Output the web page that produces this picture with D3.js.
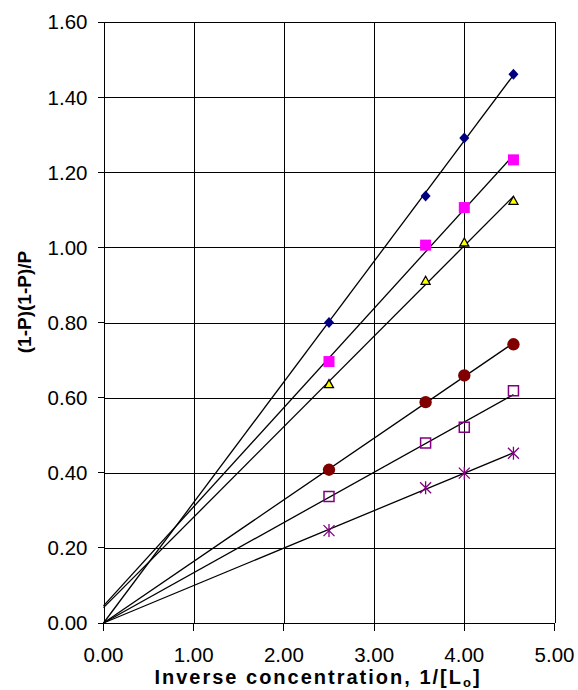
<!DOCTYPE html>
<html>
<head>
<meta charset="utf-8">
<script src="https://cdn.jsdelivr.net/npm/d3@7"></script>
<style>
  body { margin: 0; background: #fff; }
  svg { display: block; font-family: "Liberation Sans", Arial, sans-serif; }
</style>
</head>
<body>
<svg id="chart" width="578" height="690"></svg>
<script>
// inverse concentration values shared by every series
var xValues = [2.5, 3.571, 4.0, 4.545];

var seriesNames = ['diamond', 'square', 'triangle', 'circle', 'openSquare', 'star'];
var diamondValues = [0.800, 1.137, 1.291, 1.461];
var squareValues = [0.696, 1.006, 1.106, 1.233];
var triangleValues = [0.636, 0.911, 1.013, 1.124];
var circleValues = [0.408, 0.588, 0.659, 0.742];
var openSquareValues = [0.337, 0.479, 0.521, 0.618];
var starValues = [0.246, 0.360, 0.399, 0.452];
// which trendlines are forced through the origin
var throughOrigin = [true, false, false, true, true, true];

var xTicks = [0, 1, 2, 3, 4, 5];
var yTicks = [0, 0.2, 0.4, 0.6, 0.8, 1.0, 1.2, 1.4, 1.6];

var plotLeft = 103.5, plotRight = 554.5, plotTop = 22, plotBottom = 623;

var svg = d3.select('#chart');
var x = d3.scaleLinear().domain([0, 5]).range([plotLeft, plotRight]);
var y = d3.scaleLinear().domain([0, 1.6]).range([plotBottom, plotTop]);

// grid
var grid = svg.append('g').attr('stroke', '#000').attr('stroke-width', 1).attr('shape-rendering', 'crispEdges');
grid.selectAll('.hg').data(yTicks).enter().append('line')
    .attr('x1', plotLeft).attr('x2', plotRight)
    .attr('y1', function(d) { return Math.round(y(d)) + 0.5; })
    .attr('y2', function(d) { return Math.round(y(d)) + 0.5; });
grid.selectAll('.vg').data(xTicks).enter().append('line')
    .attr('y1', plotTop).attr('y2', plotBottom)
    .attr('x1', function(d) { return Math.round(x(d)) + 0.5; })
    .attr('x2', function(d) { return Math.round(x(d)) + 0.5; });

// axes
var fmt = d3.format('.2f');
var yAxis = svg.append('g')
    .call(d3.axisLeft(y).tickValues(yTicks).tickFormat(fmt).tickSize(7).tickPadding(10).offset(0));
yAxis.attr('transform', 'translate(' + (Math.round(plotLeft) + 0.5) + ',0)');
var xAxis = svg.append('g')
    .attr('transform', 'translate(0,' + (Math.round(plotBottom) + 0.5) + ')')
    .call(d3.axisBottom(x).tickValues(xTicks).tickFormat(fmt).tickSize(7).tickPadding(17).offset(0));
[yAxis, xAxis].forEach(function(a) {
    a.select('.domain').remove();
    a.selectAll('line').attr('stroke', '#000').attr('shape-rendering', 'crispEdges');
    a.selectAll('text').attr('font-size', 20.5).attr('fill', '#000')
        .attr('font-family', '"Liberation Sans", Arial, sans-serif');
});
yAxis.selectAll('text').attr('dy', '0.36em');

// axis titles
var xt = svg.append('text')
    .attr('x', 318).attr('y', 684)
    .attr('text-anchor', 'middle').attr('font-size', 20).attr('font-weight', 'bold')
    .attr('letter-spacing', 2)
    .text('Inverse concentration, 1/[L');
xt.append('tspan').attr('font-size', 13).attr('dy', 3).text('o');
xt.append('tspan').attr('dy', -3).text(']');

svg.append('text')
    .attr('transform', 'translate(31,302) rotate(-90)')
    .attr('text-anchor', 'middle').attr('font-size', 19).attr('font-weight', 'bold')
    .text('(1-P)(1-P)/P');

// trendlines
var allValues = [diamondValues, squareValues, triangleValues, circleValues, openSquareValues, starValues];

function fit(ys, origin) {
    var n = xValues.length, sx = 0, sy = 0, sxy = 0, sxx = 0;
    for (var i = 0; i < n; i++) {
        sx += xValues[i]; sy += ys[i];
        sxy += xValues[i] * ys[i]; sxx += xValues[i] * xValues[i];
    }
    if (origin) return { m: sxy / sxx, b: 0 };
    var m = (n * sxy - sx * sy) / (n * sxx - sx * sx);
    return { m: m, b: (sy - m * sx) / n };
}

var xEnd = d3.max(xValues);
allValues.forEach(function(ys, i) {
    var f = fit(ys, throughOrigin[i]);
    svg.append('line')
        .attr('x1', x(0)).attr('y1', y(f.b))
        .attr('x2', x(xEnd)).attr('y2', y(f.b + f.m * xEnd))
        .attr('stroke', '#000').attr('stroke-width', 1.3);
});

// markers
var shapes = {
    diamond: { d: 'M0,-5.5L5,0L0,5.5L-5,0Z', fill: '#000080', stroke: 'none' },
    square: { d: 'M-5.5,-5.5H5.5V5.5H-5.5Z', fill: '#ff00ff', stroke: 'none' },
    triangle: { d: 'M0,-4.5L4.5,3.5H-4.5Z', fill: '#ffff00', stroke: '#000', width: 1.3 },
    circle: { d: d3.symbol(d3.symbolCircle, 120)(), fill: '#800000', stroke: 'none' },
    openSquare: { d: 'M-5,-5H5V5H-5Z', fill: 'none', stroke: '#800080', width: 1.5 },
    star: { d: 'M-5.5,-5.5L5.5,5.5M-5.5,5.5L5.5,-5.5M0,-6.5V6.5', fill: 'none', stroke: '#800080', width: 1.3 }
};

allValues.forEach(function(ys, i) {
    var s = shapes[seriesNames[i]];
    svg.append('g').selectAll('path')
        .data(ys.map(function(v, j) { return { x: xValues[j], y: v }; }))
        .enter().append('path')
        .attr('transform', function(d) { return 'translate(' + x(d.x) + ',' + y(d.y) + ')'; })
        .attr('d', s.d)
        .attr('fill', s.fill)
        .attr('stroke', s.stroke)
        .attr('stroke-width', s.width || 0);
});
</script>
</body>
</html>
